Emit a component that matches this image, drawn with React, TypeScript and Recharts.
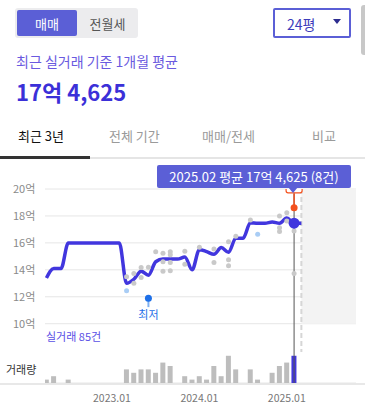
import React from 'react';
import {
  ComposedChart, Line, Bar, Scatter, XAxis, YAxis, CartesianGrid,
  ReferenceArea, ReferenceLine, Cell,
} from 'recharts';

const FONT = "'Noto Sans CJK KR', 'Noto Sans', sans-serif";

// month index 0 = 2022.04
const monthIndex = [0,1,2,3,4,5,6,7,8,9,10,11,12,13,14,15,16,17,18,19,20,21,22,23,24,25,26,27,28,29,30,31,32,33,34,35];
const avgPrice = [13.4,14.1,14.1,16.0,16.0,16.0,16.0,16.0,16.0,16.0,16.0,13.0,13.3,13.9,13.6,14.6,14.8,14.8,14.8,14.95,14.0,15.5,15.35,15.15,15.65,15.3,16.35,16.35,17.5,17.45,17.45,17.55,17.45,17.85,17.4625,17.4625];
const volume = [1,2,0,1,0,0,0,0,0,0,0,4,3,4,4,3,6,5,0,2,1,2,1,5,2,8,4,0,4,1,0,3,5,6,8,0];

const tradeMonth = [11,12,12,13,13,14,15,16,16,16,17,17,17,17,19,19,21,23,23,25,25,25,26,28,32,32,32,33,33,34,34,34];
const tradePrice = [13.48,13.73,13.0,14.17,13.43,14.2,15.35,15.24,14.6,13.9,15.35,15.12,14.54,13.93,15.38,14.42,15.68,15.55,14.54,16.08,14.74,14.3,16.5,17.7,18.0,17.13,16.84,18.24,17.63,17.26,16.89,13.73];
const otherMonth = [11,29];
const otherPrice = [12.44,16.64];

const xTicks = [9,21,33];
const xTickLabels = ['2023.01','2024.01','2025.01'];
const priceTicks = [10,12,14,16,18,20];

const selectedMonth = 34;
const todayMonth = 35;
const lowPoint = [{ m: 14, v: 11.9 }];
const highPoint = [{ m: 34, v: 18.6 }];

const rows = monthIndex.map((m, k) => ({ m, price: avgPrice[k], vol: volume[k] }));
const trades = tradeMonth.map((m, k) => ({ m, v: tradePrice[k] }));
const others = otherMonth.map((m, k) => ({ m, v: otherPrice[k] }));
const selected = [{ m: selectedMonth, v: avgPrice[monthIndex.indexOf(selectedMonth)] }];

const LINE = '#4136de';
const ACCENT = '#5b5fd6';

const PriceTick = (props: any) => (
  <text x={13} y={props.y} dy="0.36em" fontSize={11} fill="#8a8a8a" fontFamily={FONT}>
    {props.payload.value}억
  </text>
);

const MonthTick = (props: any) => (
  <text x={props.x} y={props.y} dy={11} textAnchor="middle" fontSize={10.5} fill="#777" fontFamily={FONT}>
    {xTickLabels[xTicks.indexOf(props.payload.value)]}
  </text>
);

const dot = (r: number, fill: string) => (p: any) => <circle cx={p.cx} cy={p.cy} r={r} fill={fill} />;

const LowShape = (p: any) => (
  <g>
    <line x1={p.cx} y1={p.cy} x2={p.cx} y2={p.cy + 9} stroke="#7fb0f0" strokeWidth={2} />
    <circle cx={p.cx} cy={p.cy} r={3.5} fill="#1d6fe8" />
    <text x={p.cx} y={p.cy + 21} textAnchor="middle" fontSize={11} fill="#1d6fe8" fontFamily={FONT}>최저</text>
  </g>
);

const HighShape = (p: any) => (
  <g>
    <line x1={p.cx} y1={p.cy} x2={p.cx} y2={p.cy - 14} stroke="#f4511e" strokeWidth={1.5} />
    <rect x={p.cx - 8} y={p.cy - 32} width={16} height={17} rx={2} fill="#fff" stroke="#f4511e" strokeWidth={1.2} />
    <circle cx={p.cx} cy={p.cy} r={3.5} fill="#f4511e" />
  </g>
);

export default function App() {
  return (
    <div style={{ position: 'absolute', left: 0, top: 0, width: 365, height: 409, background: '#fff', fontFamily: FONT, overflow: 'hidden' }}>
      {/* toggle */}
      <div style={{ position: 'absolute', left: 15, top: 8, width: 123, height: 30, background: '#ececee', borderRadius: 3 }} />
      <div style={{ position: 'absolute', left: 17, top: 10, width: 60, height: 26, background: ACCENT, borderRadius: 2 }} />
      <div style={{ position: 'absolute', left: 17, top: 16.8, width: 60, textAlign: 'center', fontSize: 13, lineHeight: '13px', color: '#fff' }}>매매</div>
      <div style={{ position: 'absolute', left: 77, top: 16.8, width: 61, textAlign: 'center', fontSize: 13, lineHeight: '13px', color: '#555' }}>전월세</div>
      {/* dropdown */}
      <div style={{ position: 'absolute', left: 273, top: 8, width: 78, height: 30, boxSizing: 'border-box', border: `2px solid ${ACCENT}`, borderRadius: 2 }} />
      <div style={{ position: 'absolute', left: 287, top: 17, fontSize: 14, lineHeight: '14px', color: '#3d3dbb' }}>24평</div>
      <div style={{ position: 'absolute', left: 333, top: 19, width: 0, height: 0, borderLeft: '4.5px solid transparent', borderRight: '4.5px solid transparent', borderTop: '5px solid #2d2d8f' }} />
      <div style={{ position: 'absolute', left: 361, top: 5, width: 6, height: 50, background: '#c8c8c8', borderRadius: 3 }} />
      {/* headline */}
      <div style={{ position: 'absolute', left: 16, top: 54.4, fontSize: 14, lineHeight: '14px', color: '#6a5ae0', whiteSpace: 'nowrap' }}>최근 실거래 기준 1개월 평균</div>
      <div style={{ position: 'absolute', left: 16, top: 80.4, fontSize: 22, lineHeight: '22px', fontWeight: 700, color: '#3b30d8', whiteSpace: 'nowrap' }}>17억 4,625</div>
      {/* tabs */}
      <div style={{ position: 'absolute', left: 18, top: 128.8, fontSize: 13, lineHeight: '13px', color: '#111', whiteSpace: 'nowrap' }}>최근 3년</div>
      <div style={{ position: 'absolute', left: 109, top: 128.8, fontSize: 13, lineHeight: '13px', color: '#9a9a9a', whiteSpace: 'nowrap' }}>전체 기간</div>
      <div style={{ position: 'absolute', left: 202, top: 128.8, fontSize: 13, lineHeight: '13px', color: '#9a9a9a', whiteSpace: 'nowrap' }}>매매/전세</div>
      <div style={{ position: 'absolute', left: 312, top: 128.8, fontSize: 13, lineHeight: '13px', color: '#9a9a9a', whiteSpace: 'nowrap' }}>비교</div>
      <div style={{ position: 'absolute', left: 0, top: 157, width: 365, height: 1.5, background: '#e5e5e5' }} />
      <div style={{ position: 'absolute', left: 0, top: 156, width: 90, height: 2.5, background: '#333' }} />
      {/* volume baseline */}
      <div style={{ position: 'absolute', left: 0, top: 383, width: 365, height: 1.8, background: '#e8e8e8' }} />
      <div style={{ position: 'absolute', left: 0, top: 0 }}>
        <ComposedChart width={365} height={409} data={rows} margin={{ top: 189, right: 9, bottom: 0, left: 0 }}>
          <ReferenceArea yAxisId="price" x1={todayMonth} x2={42.5} y1={10} y2={20} fill="#f3f3f3" fillOpacity={1} stroke="none" />
          <CartesianGrid yAxisId="price" vertical={false} stroke="#e6e6e6" strokeWidth={1} />
          <XAxis type="number" dataKey="m" domain={[-0.2, 42.5]} allowDataOverflow ticks={xTicks} tick={<MonthTick />} axisLine={false} tickLine={false} height={26} interval={0} />
          <YAxis yAxisId="price" type="number" domain={[5.6, 20]} allowDataOverflow ticks={priceTicks} tick={<PriceTick />} axisLine={false} tickLine={false} width={45} interval={0} />
          <YAxis yAxisId="vol" orientation="right" type="number" domain={[0, 57]} hide />
          <ReferenceLine yAxisId="price" segment={[{ x: todayMonth, y: 20 }, { x: todayMonth, y: 7.9 }]} stroke="#d6d6d6" strokeWidth={2} strokeDasharray="5 3" />
          <Bar yAxisId="vol" dataKey="vol" barSize={5} isAnimationActive={false}>
            {rows.map((r) => (
              <Cell key={r.m} fill={r.m === selectedMonth ? LINE : '#bdbdbd'} />
            ))}
          </Bar>
          <Scatter yAxisId="price" data={trades} dataKey="v" shape={dot(2.5, '#c9c9c9')} isAnimationActive={false} />
          <Scatter yAxisId="price" data={others} dataKey="v" shape={dot(2.5, '#a9cdf5')} isAnimationActive={false} />
          <ReferenceLine yAxisId="price" x={selectedMonth} stroke="#555" strokeWidth={1} />
          <Line yAxisId="price" type="monotone" dataKey="price" stroke={LINE} strokeWidth={3.5} dot={false} activeDot={false} isAnimationActive={false} />
          <Scatter yAxisId="price" data={lowPoint} dataKey="v" shape={LowShape} isAnimationActive={false} />
          <Scatter yAxisId="price" data={highPoint} dataKey="v" shape={HighShape} isAnimationActive={false} />
          <Scatter yAxisId="price" data={selected} dataKey="v" shape={dot(5.5, LINE)} isAnimationActive={false} />
        </ComposedChart>
      </div>
      {/* labels */}
      <div style={{ position: 'absolute', left: 46, top: 331.2, fontSize: 11, lineHeight: '11px', color: '#5a4fe6', whiteSpace: 'nowrap' }}>실거래 85건</div>
      <div style={{ position: 'absolute', left: 6, top: 364.2, fontSize: 11, lineHeight: '11px', color: '#333', whiteSpace: 'nowrap' }}>거래량</div>
      {/* tooltip */}
      <div style={{ position: 'absolute', left: 157, top: 165, width: 194, height: 23, background: ACCENT, borderRadius: 2 }} />
      <div style={{ position: 'absolute', left: 288, top: 187, width: 0, height: 0, borderLeft: '5px solid transparent', borderRight: '5px solid transparent', borderTop: `6px solid ${ACCENT}` }} />
      <div style={{ position: 'absolute', left: 157, top: 169.8, width: 194, textAlign: 'center', fontSize: 13, lineHeight: '13px', color: '#fff', whiteSpace: 'nowrap' }}>2025.02 평균 17억 4,625 (8건)</div>
    </div>
  );
}
